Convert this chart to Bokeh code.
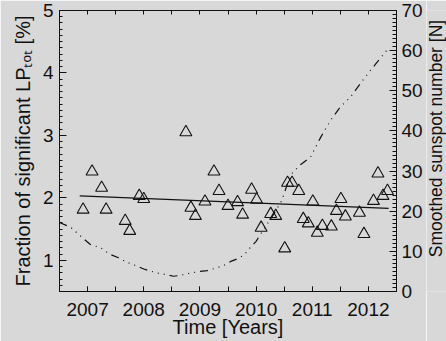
import math
from bokeh.plotting import figure
from bokeh.layouts import row
from bokeh.core.properties import value
from bokeh.models import Range1d, LinearAxis, SingleIntervalTicker, FixedTicker
from bokeh.embed import file_html
from bokeh.resources import INLINE

# ---- data ----
tri_time = [2006.92, 2007.08, 2007.25, 2007.33, 2007.67, 2007.75, 2007.92, 2008.00,
            2008.75, 2008.84, 2008.92, 2009.09, 2009.25, 2009.34, 2009.50, 2009.67,
            2009.76, 2009.92, 2010.01, 2010.09, 2010.26, 2010.35, 2010.51, 2010.56,
            2010.64, 2010.76, 2010.84, 2010.93, 2011.01, 2011.09, 2011.18, 2011.34,
            2011.43, 2011.51, 2011.59, 2011.84, 2011.92, 2012.09, 2012.17, 2012.26,
            2012.34]
tri_frac = [1.81, 2.42, 2.16, 1.81, 1.63, 1.47, 2.03, 1.98,
            3.05, 1.84, 1.71, 1.94, 2.42, 2.11, 1.87, 1.93,
            1.73, 2.13, 1.97, 1.52, 1.74, 1.71, 1.19, 2.24,
            2.24, 2.11, 1.66, 1.59, 1.94, 1.44, 1.55, 1.54,
            1.79, 1.98, 1.70, 1.76, 1.42, 1.95, 2.39, 2.03,
            2.11]

fit_time = [2006.86, 2012.36]
fit_frac = [2.03, 1.83]

ssn_time = [2006.50, 2006.70, 2006.90, 2007.05, 2007.23, 2007.41, 2007.55, 2007.70,
            2007.85, 2008.00, 2008.24, 2008.40, 2008.53, 2008.65, 2008.83, 2009.00,
            2009.13, 2009.30, 2009.43, 2009.55, 2009.66, 2009.78, 2009.90, 2010.00,
            2010.14, 2010.32, 2010.46, 2010.55, 2010.65, 2010.79, 2010.97, 2011.15,
            2011.32, 2011.50, 2011.68, 2011.92, 2012.13, 2012.34]
ssn_value = [17.2, 16.0, 13.5, 11.7, 10.9, 9.2, 8.4, 7.3,
             6.5, 5.6, 4.6, 4.2, 3.8, 4.0, 4.6, 5.0,
             5.2, 5.9, 6.5, 7.5, 8.1, 9.0, 11.0, 12.5,
             15.6, 19.4, 22.7, 26.5, 29.6, 31.6, 33.5, 38.4,
             42.5, 46.0, 48.4, 53.0, 56.7, 60.3]

half_year_ticks = [2006.5, 2007.0, 2007.5, 2008.0, 2008.5, 2009.0, 2009.5, 2010.0,
                   2010.5, 2011.0, 2011.5, 2012.0, 2012.5]

x_label = "Time [Years]"
left_label = "Fraction of significant LP\u209c\u2092\u209c [%]"
right_label = "Smoothed sunspot number [N]"

FONT = "Liberation Sans"
INK = "#111111"
BG = "#d8d8d8"

p = figure(width=426, height=341, output_backend="svg", toolbar_location=None,
           x_range=Range1d(2006.5, 2012.5), y_range=Range1d(0.5, 5.0),
           min_border_left=59, min_border_right=30, min_border_top=10,
           min_border_bottom=50)
p.extra_y_ranges = {"ssn": Range1d(0, 70)}
p.background_fill_color = BG
p.border_fill_color = BG
p.outline_line_color = INK
p.grid.visible = False


def style(ax, major_in, minor_in):
    ax.axis_line_color = INK
    ax.major_tick_line_color = INK
    ax.minor_tick_line_color = INK
    ax.major_tick_in = major_in
    ax.major_tick_out = 0
    ax.minor_tick_in = minor_in
    ax.minor_tick_out = 0
    ax.major_label_text_font = FONT
    ax.major_label_text_font_size = "19px"
    ax.major_label_text_color = INK
    ax.axis_label_text_font = FONT
    ax.axis_label_text_font_size = "20px"
    ax.axis_label_text_font_style = "normal"
    ax.axis_label_text_color = INK


# bottom axis
xa = p.xaxis[0]
xa.ticker = SingleIntervalTicker(interval=1, num_minor_ticks=2)
xa.axis_label = x_label
style(xa, 5, 5)
xa.major_label_standoff = 11
xa.axis_label_standoff = -3

# left axis
ya = p.yaxis[0]
ya.ticker = SingleIntervalTicker(interval=1, num_minor_ticks=10)
ya.axis_label = left_label
style(ya, 7, 3)
ya.major_label_standoff = 6
ya.axis_label_standoff = 6

# top axis: tick marks only (minor ticks carry no labels)
top = LinearAxis(ticker=FixedTicker(ticks=[], minor_ticks=half_year_ticks))
style(top, 4, 4)
p.add_layout(top, "above")

# right axis (sunspot number)
ra = LinearAxis(y_range_name="ssn",
                ticker=SingleIntervalTicker(interval=10, num_minor_ticks=10))
style(ra, 7, 4)
ra.major_label_standoff = 5
p.add_layout(ra, "right")

# glyphs
p.line(ssn_time, ssn_value, y_range_name="ssn", line_color=INK, line_width=1.2,
       line_dash="8 5 1 5 1 5 1 5")
p.line(fit_time, fit_frac, line_color=INK, line_width=1.3)
p.scatter(tri_time, tri_frac, marker="triangle", size=12, fill_color=None,
          line_color=INK, line_width=1.1)

# narrow strip holding the right-axis title (reads bottom-to-top)
t = figure(width=20, height=341, output_backend="svg", toolbar_location=None,
           x_range=Range1d(0, 1), y_range=p.y_range,
           min_border_left=0, min_border_right=0, min_border_top=10,
           min_border_bottom=50)
t.axis.visible = False
t.grid.visible = False
t.outline_line_color = None
t.background_fill_color = BG
t.border_fill_color = BG
t.text(x=[0.45], y=[2.95], text=[right_label], angle=math.pi / 2,
       text_align="center", text_baseline="middle", text_font=value(FONT),
       text_font_size=value("17.5px"), text_color=INK)

layout = row(p, t, spacing=0)
open("out.html", "w").write(file_html(layout, INLINE))
